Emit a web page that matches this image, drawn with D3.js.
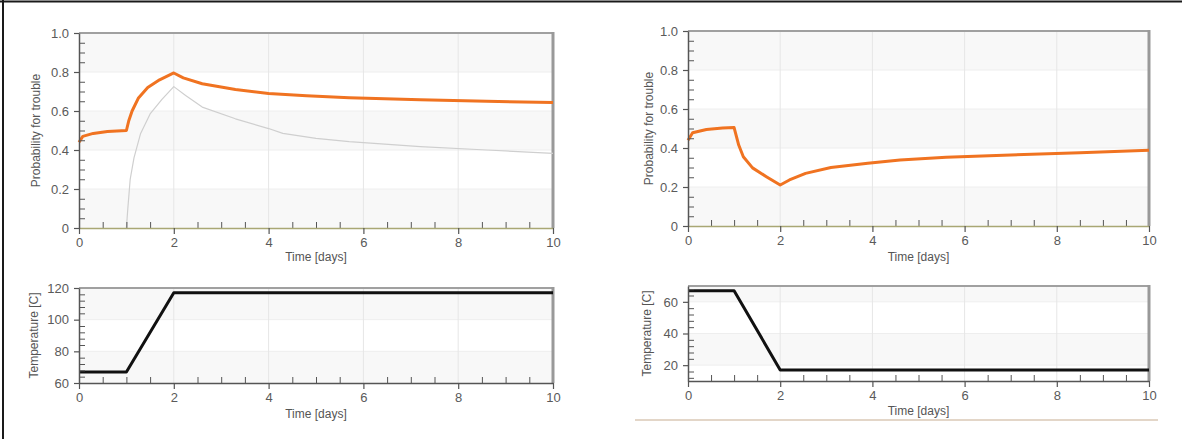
<!DOCTYPE html>
<html>
<head>
<meta charset="utf-8">
<script src="https://cdn.jsdelivr.net/npm/d3@7"></script>
<style>
  body { margin: 0; background: #fff; }
  svg { display: block; font-family: "Liberation Sans", Arial, sans-serif; }
  .tick text { fill: #5a5a5a; font-size: 13px; }
</style>
</head>
<body>
<div id="plot"></div>
<script>
// ---- data ----
let timeTicks = [0, 2, 4, 6, 8, 10];
let probTicks = [0, 0.2, 0.4, 0.6, 0.8, 1.0];
let tempTicksLeft = [60, 80, 100, 120];
let tempTicksRight = [20, 40, 60];

// left case: heating
let leftProbTime = [0, 0.08, 0.3, 0.6, 1.0, 1.05, 1.12, 1.25, 1.45, 1.7, 2.0, 2.2, 2.6, 3.3, 4.0, 4.8, 5.7, 7.2, 8.6, 10];
let leftProb     = [0.44, 0.47, 0.485, 0.495, 0.50, 0.55, 0.60, 0.665, 0.72, 0.76, 0.795, 0.77, 0.74, 0.71, 0.69, 0.678, 0.668, 0.658, 0.65, 0.643];
let leftRefTime  = [1.0, 1.03, 1.08, 1.16, 1.3, 1.5, 1.75, 2.0, 2.25, 2.6, 3.3, 4.0, 4.3, 5.0, 5.7, 7.2, 8.6, 10];
let leftRef      = [0, 0.10, 0.25, 0.36, 0.485, 0.585, 0.66, 0.725, 0.68, 0.62, 0.56, 0.51, 0.485, 0.46, 0.443, 0.417, 0.40, 0.383];
let leftTempTime = [0, 1, 2, 10];
let leftTemp     = [67, 67, 117, 117];

// right case: cooling
let rightProbTime = [0, 0.1, 0.4, 0.75, 1.0, 1.05, 1.1, 1.2, 1.4, 1.7, 2.0, 2.2, 2.55, 3.1, 3.9, 4.6, 5.6, 7.0, 8.5, 10];
let rightProb     = [0.44, 0.478, 0.495, 0.502, 0.505, 0.46, 0.415, 0.355, 0.298, 0.253, 0.21, 0.236, 0.27, 0.30, 0.322, 0.338, 0.352, 0.364, 0.376, 0.388];
let rightTempTime = [0, 1, 2, 10];
let rightTemp     = [67, 67, 17, 17];

let zip = (xs, ys) => xs.map((x, i) => ({t: x, v: ys[i]}));

let svg = d3.select('#plot')
            .append('svg')
                .attr('width', 1182)
                .attr('height', 439);

// outer frame (only top and left edges show in the picture)
svg.append('line').attr('x1', 0).attr('x2', 1182).attr('y1', 1.5).attr('y2', 1.5)
    .attr('stroke', '#1a1a1a').attr('stroke-width', 2);
svg.append('line').attr('x1', 3).attr('x2', 3).attr('y1', 0).attr('y2', 439)
    .attr('stroke', '#1a1a1a').attr('stroke-width', 2);

// tan rule under the right-hand temperature plot
svg.append('line').attr('x1', 635).attr('x2', 1158).attr('y1', 420).attr('y2', 420)
    .attr('stroke', '#e3d6c8').attr('stroke-width', 2);

function panel(p) {
    let w = p.x1 - p.x0, h = p.y1 - p.y0;
    let g = svg.append('g').attr('transform', `translate(${p.x0},${p.y0})`);

    let x = d3.scaleLinear().domain([0, 10]).range([0, w]);
    let y = d3.scaleLinear().domain(p.yDomain).range([h, 0]);

    // alternating bands between major y ticks, grey at the top
    let edges = [p.yDomain[1]].concat(p.yTicks.filter(v => v < p.yDomain[1]).slice().reverse());
    if (edges[edges.length - 1] > p.yDomain[0]) edges.push(p.yDomain[0]);
    for (let i = 0; i < edges.length - 1; i++) {
        g.append('rect')
            .attr('x', 0).attr('width', w)
            .attr('y', y(edges[i])).attr('height', y(edges[i + 1]) - y(edges[i]))
            .attr('fill', i % 2 === 0 ? '#f8f8f8' : '#ffffff');
    }

    // grid
    g.append('g').selectAll('line')
        .data(p.yTicks.filter(v => v > p.yDomain[0] && v < p.yDomain[1]))
        .join('line')
            .attr('x1', 0).attr('x2', w)
            .attr('y1', d => y(d)).attr('y2', d => y(d))
            .attr('stroke', '#eeeeee');
    g.append('g').selectAll('line')
        .data(timeTicks.slice(1, -1))
        .join('line')
            .attr('x1', d => x(d)).attr('x2', d => x(d))
            .attr('y1', 0).attr('y2', h)
            .attr('stroke', '#e6e6e6');

    // frame top + right
    g.append('line').attr('x1', 0).attr('x2', w).attr('y1', 0).attr('y2', 0)
        .attr('stroke', '#a0a0a0').attr('stroke-width', 2);
    g.append('line').attr('x1', w).attr('x2', w).attr('y1', -1).attr('y2', h)
        .attr('stroke', '#999').attr('stroke-width', 3);

    // lines
    let line = d3.line().x(d => x(d.t)).y(d => y(d.v));
    p.series.forEach(s => {
        g.append('path')
            .datum(s.data)
            .attr('d', line)
            .attr('fill', 'none')
            .attr('stroke', s.color)
            .attr('stroke-width', s.width)
            .attr('stroke-linejoin', 'round');
    });

    // minor ticks (pointing inside)
    let minorX = d3.range(0.5, 10, 0.5).filter(v => v % 2 !== 0);
    g.append('g')
        .attr('transform', `translate(0,${h})`)
        .call(d3.axisTop(x).tickValues(minorX).tickSize(6).tickFormat(''))
        .call(a => a.select('.domain').remove())
        .call(a => a.selectAll('line').attr('stroke', '#555'));
    g.append('g')
        .call(d3.axisRight(y).tickValues(p.yMinor).tickSize(6).tickFormat(''))
        .call(a => a.select('.domain').remove())
        .call(a => a.selectAll('line').attr('stroke', '#555'));

    // major axes
    g.append('g')
        .attr('transform', `translate(0,${h})`)
        .call(d3.axisBottom(x).tickValues(timeTicks).tickSize(6).tickPadding(4).tickSizeOuter(0))
        .call(a => a.select('.domain').attr('stroke', p.baseColor).attr('stroke-width', 1.5))
        .call(a => a.selectAll('line').attr('stroke', '#555').attr('stroke-width', 1.2));
    g.append('g')
        .call(d3.axisLeft(y).tickValues(p.yTicks).tickSize(5).tickPadding(5).tickSizeOuter(0)
                .tickFormat(p.yFormat))
        .call(a => a.select('.domain').attr('stroke', '#555').attr('stroke-width', 1.5))
        .call(a => a.selectAll('line').attr('stroke', '#555').attr('stroke-width', 1.2));
    g.selectAll('.tick text').attr('font-family', '"Liberation Sans", Arial, sans-serif');

    // titles
    g.append('text')
        .attr('x', w / 2).attr('y', h + p.xTitleOffset)
        .attr('text-anchor', 'middle')
        .attr('dominant-baseline', 'middle')
        .attr('fill', '#555').attr('font-size', 12)
        .text('Time [days]');
    g.append('text')
        .attr('transform', `translate(${-p.yTitleOffset},${h / 2}) rotate(-90)`)
        .attr('text-anchor', 'middle')
        .attr('dominant-baseline', 'middle')
        .attr('fill', '#555').attr('font-size', 12)
        .text(p.yTitle);
}

let probFormat = d => d === 0 ? '0' : d3.format('.1f')(d);
let probMinor = d3.range(0.05, 1, 0.05).filter(v => Math.abs(v * 5 - Math.round(v * 5)) > 1e-6);

panel({
    x0: 79, x1: 553, y0: 33, y1: 228,
    yDomain: [0, 1], yTicks: probTicks, yMinor: probMinor, yFormat: probFormat,
    yTitle: 'Probability for trouble', yTitleOffset: 42, xTitleOffset: 30,
    baseColor: '#a9a774',
    series: [
        {data: zip(leftRefTime, leftRef), color: '#cfcfcf', width: 1.2},
        {data: zip(leftProbTime, leftProb), color: '#f07321', width: 3}
    ]
});

panel({
    x0: 79, x1: 553, y0: 288, y1: 383,
    yDomain: [60, 120], yTicks: tempTicksLeft,
    yMinor: d3.range(64, 120, 4).filter(v => v % 20 !== 0), yFormat: d3.format('d'),
    yTitle: 'Temperature [C]', yTitleOffset: 44, xTitleOffset: 32,
    baseColor: '#555',
    series: [
        {data: zip(leftTempTime, leftTemp), color: '#111', width: 3}
    ]
});

panel({
    x0: 688, x1: 1149, y0: 31, y1: 226,
    yDomain: [0, 1], yTicks: probTicks, yMinor: probMinor, yFormat: probFormat,
    yTitle: 'Probability for trouble', yTitleOffset: 38, xTitleOffset: 32,
    baseColor: '#a9a774',
    series: [
        {data: zip(rightProbTime, rightProb), color: '#f07321', width: 3}
    ]
});

panel({
    x0: 688, x1: 1149, y0: 286, y1: 381,
    yDomain: [10, 70], yTicks: tempTicksRight,
    yMinor: d3.range(12, 70, 4).filter(v => v % 20 !== 0), yFormat: d3.format('d'),
    yTitle: 'Temperature [C]', yTitleOffset: 40, xTitleOffset: 31,
    baseColor: '#555',
    series: [
        {data: zip(rightTempTime, rightTemp), color: '#111', width: 3}
    ]
});
</script>
</body>
</html>
